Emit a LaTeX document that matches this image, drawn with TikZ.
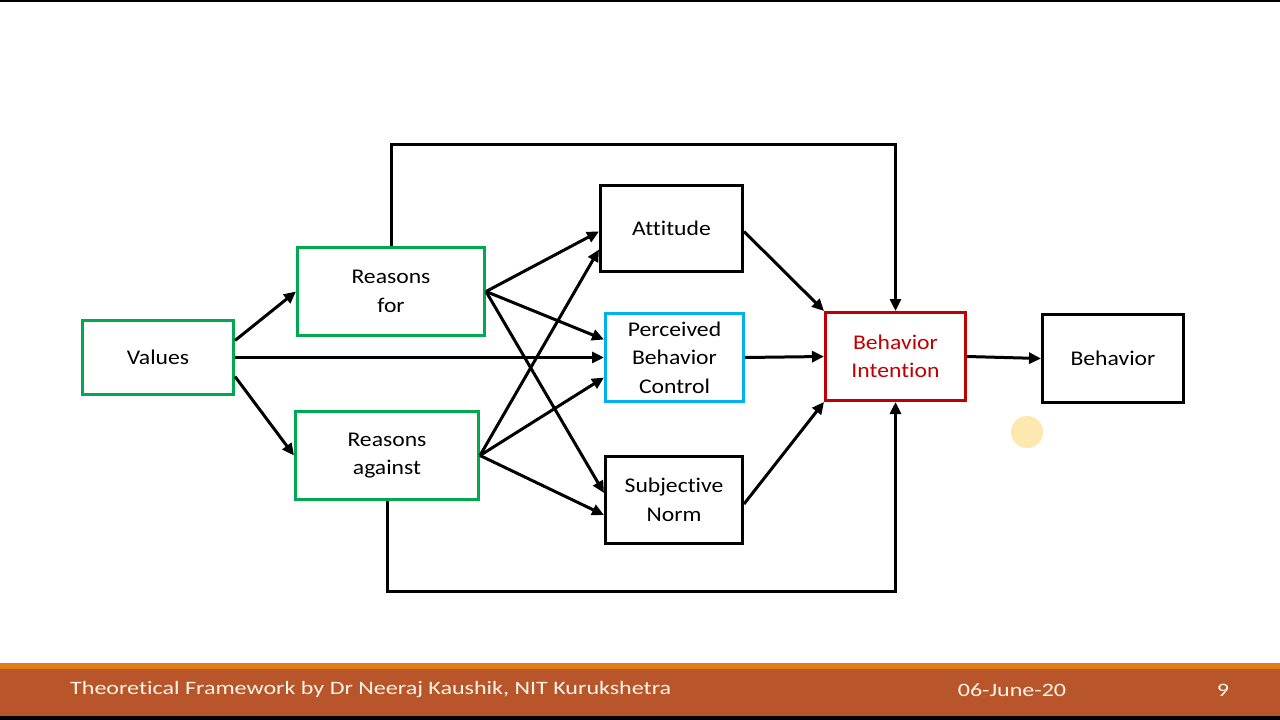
\documentclass[tikz,border=0pt]{standalone}
\usepackage{fontspec}
\setmainfont{Carlito}[Ligatures=NoCommon]
\newfontfamily\boxfont{Carlito}[Ligatures=NoCommon,FakeStretch=1.13]
\newfontfamily\footfont{Carlito}[Ligatures=NoCommon,FakeStretch=1.27]
\usepackage{tikz}
\usetikzlibrary{arrows.meta}
\definecolor{boxgreen}{RGB}{0,168,80}
\definecolor{boxblue}{RGB}{0,176,240}
\definecolor{boxred}{RGB}{192,0,0}
\definecolor{footorange}{RGB}{224,124,20}
\definecolor{footbrown}{RGB}{185,85,42}
\definecolor{foottext}{RGB}{255,245,230}
\definecolor{cursorspot}{RGB}{253,232,176}

\begin{document}
\begin{tikzpicture}[x=1bp,y=-1bp]
\tikzstyle{every node}+=[inner sep=0pt]
\tikzstyle{box}=[draw,line width=3bp,align=center,font=\boxfont\fontsize{21}{28.5}\selectfont]
\tikzstyle{link}=[line width=3bp,-{Triangle[length=12bp,width=11bp]}]
\tikzstyle{foot}=[text=foottext,font=\footfont\fontsize{19}{24}\selectfont]
\useasboundingbox (0,0) rectangle (1280,720);
% slide frame and footer
\fill [black] (0,0) rectangle (1280,2);
\fill [footorange] (0,663) rectangle (1280,669);
\fill [footbrown] (0,669) rectangle (1280,716);
\fill [black] (0,716) rectangle (1280,720);
\node [foot,anchor=west] (title) at (70,690) {Theoretical Framework by Dr Neeraj Kaushik, NIT Kurukshetra};
\node [foot] (date) at (1012,690) {06-June-20};
\node [foot] (page) at (1223,690) {9};
% pointer spot
\fill [cursorspot] (1027,432) circle (16);
% boxes
\node [box,draw=boxgreen,minimum width=151bp,minimum height=74bp] (values) at (158,357.5) {Values};
\node [box,draw=boxgreen,minimum width=187bp,minimum height=88bp] (reasonsfor) at (391,291.5) {Reasons\\for};
\node [box,draw=boxgreen,minimum width=183bp,minimum height=88bp] (reasonsagainst) at (387,455.5) {Reasons\\against};
\node [box,minimum width=142bp,minimum height=86bp] (attitude) at (671.5,228.5) {Attitude};
\node [box,draw=boxblue,minimum width=138bp,minimum height=88bp] (pbc) at (674.5,357.5) {Perceived\\Behavior\\Control};
\node [box,minimum width=137bp,minimum height=87bp] (norm) at (674,500) {Subjective\\Norm};
\node [box,draw=boxred,text=boxred,minimum width=140bp,minimum height=88bp] (intention) at (895.5,356.5) {Behavior\\Intention};
\node [box,minimum width=141bp,minimum height=88bp] (behavior) at (1113,358.5) {Behavior};
\coordinate (toprail) at (0,145);
\coordinate (bottomrail) at (0,591);
% values
\draw [link] ([yshift=17bp]values.east) -- (reasonsfor.west);
\draw [link] ([yshift=-19bp]values.east) -- (reasonsagainst.west);
\draw [link] (values.east) -- (pbc.west);
% reasons
\draw [link] (reasonsfor.east) -- ([yshift=-3bp]attitude.west);
\draw [link] (reasonsfor.east) -- ([yshift=18bp]pbc.west);
\draw [link] (reasonsfor.east) -- ([yshift=7bp]norm.west);
\draw [link] (reasonsagainst.east) -- ([yshift=-21bp]attitude.west);
\draw [link] (reasonsagainst.east) -- ([yshift=-20bp]pbc.west);
\draw [link] (reasonsagainst.east) -- ([yshift=-15bp]norm.west);
% into intention
\draw [link] ([yshift=-3bp]attitude.east) -- (intention.north west);
\draw [link] (pbc.east) -- (intention.west);
\draw [link] ([yshift=-4bp]norm.east) -- (intention.south west);
\draw [link] (intention.east) -- (behavior.west);
\draw [link] (reasonsfor.north) -- (reasonsfor.north |- toprail) -| (intention.north);
\draw [link] (reasonsagainst.south) -- (reasonsagainst.south |- bottomrail) -| (intention.south);
\end{tikzpicture}
\end{document}
